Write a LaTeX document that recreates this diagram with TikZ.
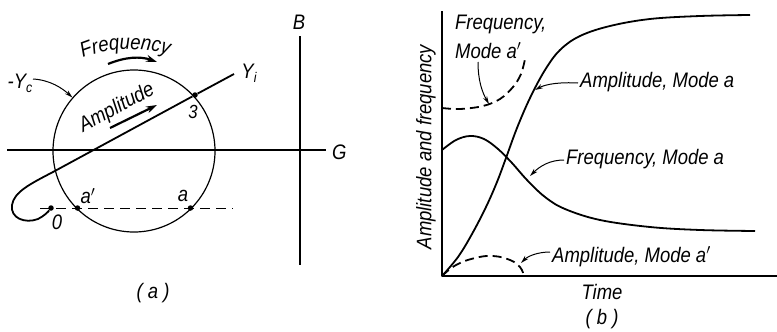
\documentclass[tikz,border=0pt]{standalone}
\usepackage{fontspec}
\setmainfont{Liberation Sans}[FakeStretch=0.88]
\usetikzlibrary{arrows.meta,decorations.text}
\newcommand{\subi}[1]{\raisebox{-4pt}{\fontsize{14}{14}\selectfont #1}}
\begin{document}
\begin{tikzpicture}[x=1pt,y=-1pt,
  lbl/.style={font=\fontsize{21}{24}\selectfont\itshape, inner sep=0pt},
  thinline/.style={line width=1.2pt},
  curve/.style={line width=1.8pt, line join=round},
  dcurve/.style={curve, dash pattern=on 9pt off 5pt},
  pointer/.style={line width=1pt, -{Stealth[length=8pt,width=4.5pt]}},
  bigarrow/.style={line width=2.2pt, -{Stealth[length=11pt,width=7pt]}},
  dot/.style={circle, fill, inner sep=0pt, minimum size=5.5pt}]
\useasboundingbox (0,0) rectangle (777,332);
% ---------------- panel (a) ----------------
\node[draw, circle, thinline, inner sep=0pt, minimum size=162pt] (C) at (134,151) {};
\coordinate (Gl) at (7,150);
\coordinate (Gr) at (326,150);
\coordinate (Bt) at (300,36);
\coordinate (Bb) at (300,265);
\draw[thinline] (Gl) -- (Gr);
\draw[thinline] (Bt) -- (Bb);
\node[lbl, anchor=west] (G) at (332,152) {G};
\node[lbl] (B) at (299,22) {B};
% dashed line and points
\coordinate (dL) at (40,208);
\coordinate (dR) at (233,208);
\draw[line width=1pt, dash pattern=on 10pt off 6pt] (dL) -- (dR);
\node[dot] (O) at (51,208) {};
\node[dot] (ap) at (77.5,208) {};
\node[dot] (a) at (190.5,208) {};
\node[dot] (P3) at (195,95) {};
% Y_i line with loop
\coordinate (Yend) at (234,74);
\coordinate (Ybend) at (53,172);
\draw[curve] (Yend) -- (P3) -- (Ybend)
  .. controls (30,184) and (14,192) .. (12,205)
  .. controls (10,218) and (25,224) .. (38,219)
  .. controls (44,216) and (48,212) .. (O);
\node[lbl] (Yi) at (249,73) {Y\subi{i}};
\node[lbl] (Yc) at (20,83) {-Y\subi{c}};
\node[lbl, font=\fontsize{19}{22}\selectfont\itshape] (l3) at (193,112) {3};
\node[lbl] (lap) at (88,196) {a$'$};
\node[lbl] (la) at (183,196) {a};
\node[lbl] (l0) at (57,222) {0};
\draw[pointer] (33,79) .. controls (50,80) and (62,88) .. (C.139);
% Amplitude label and arrow
\node[lbl, rotate=28] (Amp) at (117,108) {Amplitude};
\coordinate (amS) at (110,128);
\coordinate (amE) at (157,105);
\draw[bigarrow] (amS) -- (amE);
% Frequency label along arc and arrow
\path[decorate, decoration={text along path, text align=left,
  text={|\fontsize{21}{24}\selectfont\itshape|Frequency}}]
  (83,58) .. controls (110,46) and (160,44) .. (194,68);
\coordinate (frS) at (108,64);
\coordinate (frE) at (157,62);
\draw[bigarrow] (frS) .. controls (125,57) and (140,56) .. (frE);
\node[lbl] (capa) at (153,293) {( a )};
% ---------------- panel (b) ----------------
\coordinate (Or) at (442,276);
\coordinate (Ytop) at (442,11);
\coordinate (Xend) at (777,276);
\draw[curve] (Ytop) -- (Or) -- (Xend);
\node[lbl, rotate=90] (ylab) at (426,147) {Amplitude and frequency};
\node[lbl] (time) at (602,292) {Time};
\node[lbl] (capb) at (602,319) {( b )};
% Amplitude, mode a
\draw[curve] plot[smooth, tension=0.6] coordinates {(442,276) (458,257) (472,234) (486,207) (497,182) (506,158) (517,128) (530,98) (545,70) (560,50) (580,36) (610,26) (650,19) (700,16) (750,15)};
% Frequency, mode a
\draw[curve] plot[smooth, tension=0.6] coordinates {(442,150) (456,140) (470,136) (484,139) (498,149) (512,163) (527,180) (545,197) (565,209) (600,220) (650,227) (700,230) (755,231)};
% Frequency, mode a' (dashed)
\draw[dcurve] plot[smooth, tension=0.6] coordinates {(442,108) (460,109) (483,106) (500,99) (513,87) (521,74) (525,59)};
% Amplitude, mode a' (dashed)
\draw[dcurve] plot[smooth, tension=0.7] coordinates {(442,276) (456,265) (475,258) (493,256) (510,260) (520,267) (524,276)};
% labels (b)
\node[lbl, anchor=base west] (fap1) at (455,30) {Frequency,};
\node[lbl, anchor=base west] (fap2) at (455,58) {Mode a$'$};
\draw[pointer] (478,62) .. controls (478,80) and (482,92) .. (489,104);
\node[lbl, anchor=base west] (ama) at (580,87) {Amplitude, Mode a};
\draw[pointer] (578,83) .. controls (560,82) and (546,84) .. (535,90);
\node[lbl, anchor=base west] (fma) at (566,164) {Frequency, Mode a};
\draw[pointer] (564,160) .. controls (550,160) and (540,166) .. (530,176);
\node[lbl, anchor=base west] (amap) at (552,262) {Amplitude, Mode a$'$};
\draw[pointer] (550,252) .. controls (538,252) and (528,256) .. (521,263);
\end{tikzpicture}
\end{document}
